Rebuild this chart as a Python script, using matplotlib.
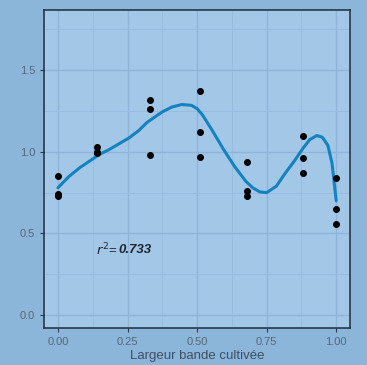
import numpy as np
import matplotlib.pyplot as plt

# points observés
largeur = [0.00, 0.00, 0.00, 0.14, 0.14, 0.14,
           0.33, 0.33, 0.33, 0.51, 0.51, 0.51,
           0.68, 0.68, 0.68, 0.88, 0.88, 0.88,
           1.00, 1.00, 1.00]
valeur = [0.85, 0.74, 0.73, 1.03, 1.00, 0.99,
          1.32, 1.26, 0.98, 1.37, 1.12, 0.97,
          0.94, 0.76, 0.73, 1.10, 0.96, 0.87,
          0.84, 0.65, 0.56]

# courbe lissée
courbe_x = [0.00, 0.04, 0.08, 0.115, 0.15, 0.185, 0.22, 0.255, 0.29, 0.32,
            0.345, 0.375, 0.41, 0.445, 0.48, 0.50, 0.52, 0.555, 0.595, 0.635,
            0.675, 0.70, 0.725, 0.75, 0.785, 0.815, 0.85, 0.88, 0.905, 0.93,
            0.95, 0.97, 0.985, 1.00]
courbe_y = [0.78, 0.85, 0.905, 0.945, 0.985, 1.015, 1.05, 1.085, 1.13, 1.18,
            1.21, 1.245, 1.275, 1.29, 1.285, 1.265, 1.225, 1.13, 1.015, 0.91,
            0.82, 0.78, 0.755, 0.75, 0.79, 0.865, 0.945, 1.02, 1.075, 1.10,
            1.09, 1.04, 0.93, 0.70]
r2 = 0.733

x_ticks = [0.00, 0.25, 0.50, 0.75, 1.00]
y_ticks = [0.0, 0.5, 1.0, 1.5]

plt.rcParams['font.family'] = ['Liberation Sans', 'DejaVu Sans']

fig = plt.figure(figsize=(3.67, 3.65), dpi=100)
fig.patch.set_facecolor('#8cb5da')
ax = fig.add_axes([0.12, 0.101, 0.834, 0.872])
ax.set_facecolor('#a3c7e7')

ax.plot(courbe_x, courbe_y, color='#1482c0', lw=2.2, zorder=3,
        solid_joinstyle='round', solid_capstyle='round')
ax.scatter(largeur, valeur, s=16, color='black', zorder=4)

# r² : deux morceaux accolés
t1 = ax.text(0.135, 0.40, r'$r^2$' + '=', fontsize=9.5, color='#1e2630',
             va='center', ha='left')
ax.annotate(f'{r2}', xy=(1, 0.5), xycoords=t1, xytext=(1, 0),
            textcoords='offset points', fontsize=9.5, fontstyle='italic',
            fontweight='bold', color='#1e2630', va='center', ha='left')

ax.set_xlim(-0.05, 1.05)
ax.set_ylim(-0.08, 1.87)
ax.set_xticks(x_ticks)
ax.set_xticklabels([f'{t:.2f}' for t in x_ticks])
ax.set_yticks(y_ticks)
ax.set_yticks([0.25, 0.75, 1.25, 1.75], minor=True)
ax.set_xticks([0.125, 0.375, 0.625, 0.875], minor=True)
ax.grid(True, which='major', color='#8fb4d8', lw=1.0)
ax.grid(True, which='minor', color='#97bcdf', lw=0.7)
ax.set_axisbelow(True)
ax.tick_params(colors='#2a3a4a', labelcolor='#55697c', labelsize=8, length=3)
ax.tick_params(which='minor', length=0)
for s in ax.spines.values():
    s.set_color('#1f2d3d')
    s.set_linewidth(1.1)
ax.set_xlabel('Largeur bande cultivée', fontsize=9.5, color='#3d4f63', labelpad=2)

fig.savefig('out.png', dpi=100, facecolor=fig.get_facecolor())
